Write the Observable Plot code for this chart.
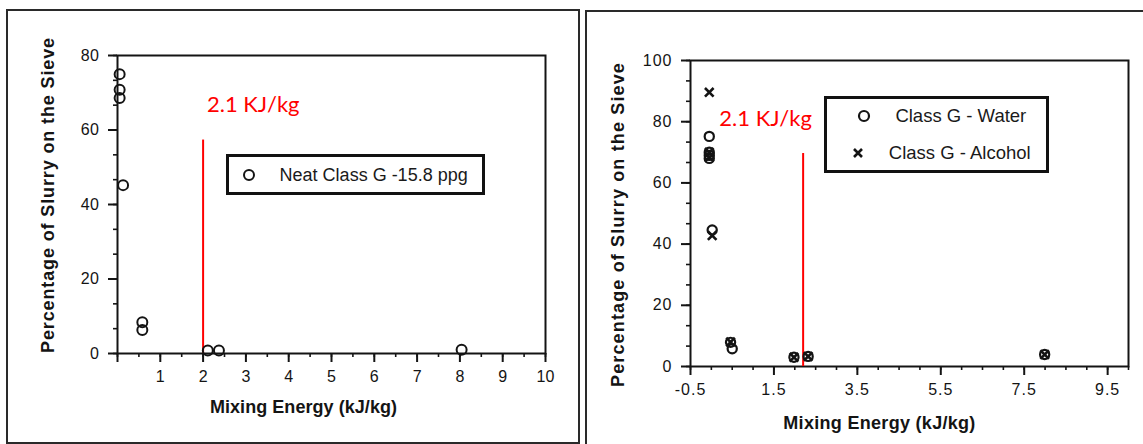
<!DOCTYPE html>
<html><head><meta charset="utf-8">
<script src="https://cdn.jsdelivr.net/npm/d3@7"></script>
<script src="https://cdn.jsdelivr.net/npm/@observablehq/plot@0.6"></script>
<style>
html,body{margin:0;padding:0;background:#fff;}
#wrap{position:relative;width:1143px;height:444px;overflow:hidden;background:#fff;font-family:"Liberation Sans",Arial,sans-serif;color:#1a1a1a;}
#wrap svg{position:absolute;top:0;}
.frame{position:absolute;border:2px solid #2a2a2a;box-sizing:border-box;}
.legend{position:absolute;border:3px solid #111;box-sizing:border-box;}
.item{position:absolute;white-space:nowrap;transform:translateY(-50%);line-height:1;color:#1a1a1a;}
.sym{position:absolute;transform:translate(-50%,-50%);overflow:visible;}
</style></head><body><div id="wrap"></div>
<script>
// ---------- data ----------
const yTitle = "Percentage of Slurry on the Sieve";
const xTitle = "Mixing Energy (kJ/kg)";

// Left panel: Neat Class G -15.8 ppg
const neatLabel = "Neat Class G -15.8 ppg";
const neatX = [0.05, 0.05, 0.05, 0.13, 0.58, 0.58, 2.11, 2.37, 8.04];
const neatY = [75, 70.8, 68.6, 45.2, 8.4, 6.3, 0.8, 0.8, 1.0];

// Right panel
const waterLabel = "Class G - Water";
const waterX = [-0.05, -0.05, -0.05, -0.05, 0.02, 0.46, 0.50, 1.98, 2.32, 7.99];
const waterY = [75.2, 70, 69, 68, 44.6, 7.9, 5.8, 3.0, 3.3, 3.9];
const alcoholLabel = "Class G - Alcohol";
const alcoholX = [-0.05, -0.05, -0.05, 0.02, 0.46, 1.98, 2.32, 7.99];
const alcoholY = [89.6, 70, 68.4, 42.8, 8.0, 3.0, 3.3, 3.9];

// annotations
const annotText = "2.1 KJ/kg";
const leftAnnot = [{x: 2.0, bottom: 0, top: 57.3, tx: 2.09, ty: 66.8}];
const rightAnnot = [{x: 2.2, bottom: 0, top: 69.6, tx: 0.19, ty: 80.8}];

// ticks
const leftXTicks = [0,1,2,3,4,5,6,7,8,9,10];
const leftXLabels = ["","1","2","3","4","5","6","7","8","9","10"];
const leftXMinor = d3.range(0, 10.01, 0.5);
const leftYTicks = [0,20,40,60,80];
const leftYLabels = ["0","20","40","60","80"];
const leftYMinor = d3.range(0, 80.01, 20/3);

const rightXTicks = [-0.5,1.5,3.5,5.5,7.5,9.5];
const rightXLabels = ["-0.5","1.5","3.5","5.5","7.5","9.5"];
const rightXMinor = d3.range(-0.5, 10.01, 0.5);
const rightYTicks = [0,20,40,60,80,100];
const rightYLabels = ["0","20","40","60","80","100"];
const rightYMinor = d3.range(0, 100.01, 20/3);

// ---------- build ----------
const neat = neatX.map((x, i) => ({x, y: neatY[i]}));
const water = waterX.map((x, i) => ({x, y: waterY[i]}));
const alcohol = alcoholX.map((x, i) => ({x, y: alcoholY[i]}));
const fmt = (ticks, labels) => { const m = new Map(ticks.map((t, i) => [t, labels[i]])); return d => m.get(d) ?? ""; };

const INK = "#141414";
const baseStyle = {fontFamily: "'Liberation Sans', Arial, sans-serif", fontSize: "15px", color: INK, background: "transparent", overflow: "visible"};

const left = Plot.plot({
  width: 580, height: 444,
  marginLeft: 117, marginRight: 35, marginTop: 55, marginBottom: 91,
  style: baseStyle,
  x: {domain: [0, 10]},
  y: {domain: [0, 80]},
  marks: [
    Plot.axisY({ticks: leftYMinor, tickSize: 4, fill: null, strokeWidth: 1.6, label: null}),
    Plot.axisY({ticks: leftYTicks, tickSize: 9, tickPadding: 9, tickFormat: fmt(leftYTicks, leftYLabels), label: null, strokeWidth: 2, fontSize: 16}),
    Plot.axisX({ticks: leftXMinor, tickSize: 4, fill: null, strokeWidth: 1.6, label: null}),
    Plot.axisX({ticks: leftXTicks, tickSize: 9, tickPadding: 8, tickFormat: fmt(leftXTicks, leftXLabels), label: null, strokeWidth: 2, fontSize: 16}),
    Plot.frame({stroke: INK, strokeWidth: 2}),
    Plot.ruleX(leftAnnot, {x: "x", y1: "bottom", y2: "top", stroke: "#ff0000", strokeWidth: 2}),
    Plot.text(leftAnnot, {x: "tx", y: "ty", text: () => annotText, fill: "#ff0000", fontSize: 22, textAnchor: "start", fontFamily: "Lato"}),
    Plot.dot(neat, {x: "x", y: "y", r: 5, stroke: INK, strokeWidth: 2, fill: "none"}),
    Plot.text([yTitle], {frameAnchor: "left", textAnchor: "middle", lineAnchor: "middle", rotate: -90, dx: -69, dy: -9.5, fontWeight: "bold", fontSize: 18}),
    Plot.text([xTitle], {frameAnchor: "bottom", textAnchor: "middle", lineAnchor: "middle", dx: -28, dy: 54, fontWeight: "bold", fontSize: 18})
  ]
});

const right = Plot.plot({
  width: 563, height: 444,
  marginLeft: 110, marginRight: 15, marginTop: 60, marginBottom: 78,
  style: baseStyle,
  x: {domain: [-0.5, 10]},
  y: {domain: [0, 100]},
  marks: [
    Plot.axisY({ticks: rightYMinor, tickSize: 4, fill: null, strokeWidth: 1.6, label: null}),
    Plot.axisY({ticks: rightYTicks, tickSize: 9, tickPadding: 9, tickFormat: fmt(rightYTicks, rightYLabels), label: null, strokeWidth: 2, fontSize: 16}),
    Plot.axisX({ticks: rightXMinor, tickSize: 4, fill: null, strokeWidth: 1.6, label: null}),
    Plot.axisX({ticks: rightXTicks, tickSize: 9, tickPadding: 8, tickFormat: fmt(rightXTicks, rightXLabels), label: null, strokeWidth: 2, fontSize: 16}),
    Plot.frame({stroke: INK, strokeWidth: 2}),
    Plot.ruleX(rightAnnot, {x: "x", y1: "bottom", y2: "top", stroke: "#ff0000", strokeWidth: 2}),
    Plot.text(rightAnnot, {x: "tx", y: "ty", text: () => annotText, fill: "#ff0000", fontSize: 22, textAnchor: "start", fontFamily: "Lato"}),
    Plot.dot(water, {x: "x", y: "y", r: 4.6, stroke: INK, strokeWidth: 2.2, fill: "none"}),
    Plot.dot(alcohol, {x: "x", y: "y", r: 4, symbol: "times", stroke: INK, strokeWidth: 2.6}),
    Plot.text([yTitle], {frameAnchor: "left", textAnchor: "middle", lineAnchor: "middle", rotate: -90, dx: -72, dy: 11, fontWeight: "bold", fontSize: 18}),
    Plot.text([xTitle], {frameAnchor: "bottom", textAnchor: "middle", lineAnchor: "middle", dx: -30, dy: 56.5, fontWeight: "bold", fontSize: 18})
  ]
});

const wrap = document.getElementById("wrap");
left.style.left = "0px";
right.style.left = "580px";
wrap.appendChild(left);
wrap.appendChild(right);

// widen lettering to match the scanned text
function fit(svg, content, len) {
  d3.select(svg).selectAll("text").filter(function() { return this.textContent === content; })
    .each(function() {
      const w = this.getComputedTextLength();
      const ls = (len - w) / Math.max(1, content.length - 1);
      this.style.letterSpacing = ls.toFixed(2) + "px";
    });
}
fit(left, yTitle, 315); fit(left, xTitle, 187);
fit(right, yTitle, 324); fit(right, xTitle, 192);
d3.select(right).selectAll('g[aria-label="x-axis tick label"], g[aria-label="y-axis tick label"]').style("letter-spacing", "1px");
d3.select(left).selectAll('g[aria-label="y-axis tick label"]').style("letter-spacing", "0.5px");

// panel frames
function box(cls, l, t, w, h) { const d = document.createElement("div"); d.className = cls; Object.assign(d.style, {left: l + "px", top: t + "px", width: w + "px", height: h + "px"}); wrap.appendChild(d); return d; }
box("frame", 6, 9, 574, 435);
box("frame", 585, 10, 600, 440);

// legends
function circleSym(cx, cy, r, sw) {
  const s = d3.create("svg").attr("class", "sym").attr("width", 14).attr("height", 14).style("left", cx + "px").style("top", cy + "px");
  s.append("circle").attr("cx", 7).attr("cy", 7).attr("r", r).attr("fill", "none").attr("stroke", INK).attr("stroke-width", sw);
  wrap.appendChild(s.node());
}
function timesSym(cx, cy, a, sw) {
  const s = d3.create("svg").attr("class", "sym").attr("width", 14).attr("height", 14).style("left", cx + "px").style("top", cy + "px");
  s.append("path").attr("d", `M${7-a},${7-a}L${7+a},${7+a}M${7-a},${7+a}L${7+a},${7-a}`).attr("stroke", INK).attr("stroke-width", sw);
  wrap.appendChild(s.node());
}
function label(txt, x, y, size) { const d = document.createElement("div"); d.className = "item"; d.textContent = txt; Object.assign(d.style, {left: x + "px", top: y + "px", fontSize: size + "px"}); wrap.appendChild(d); }

box("legend", 226, 154, 259, 41);
circleSym(249, 174.6, 5, 2);
label(neatLabel, 279.6, 174.6, 18);

box("legend", 824, 96, 225, 77);
circleSym(863.8, 115.7, 5, 2.2);
label(waterLabel, 895.4, 115.7, 18.5);
timesSym(857.6, 153, 4, 2.6);
label(alcoholLabel, 888.8, 153, 18.5);
</script></body></html>
